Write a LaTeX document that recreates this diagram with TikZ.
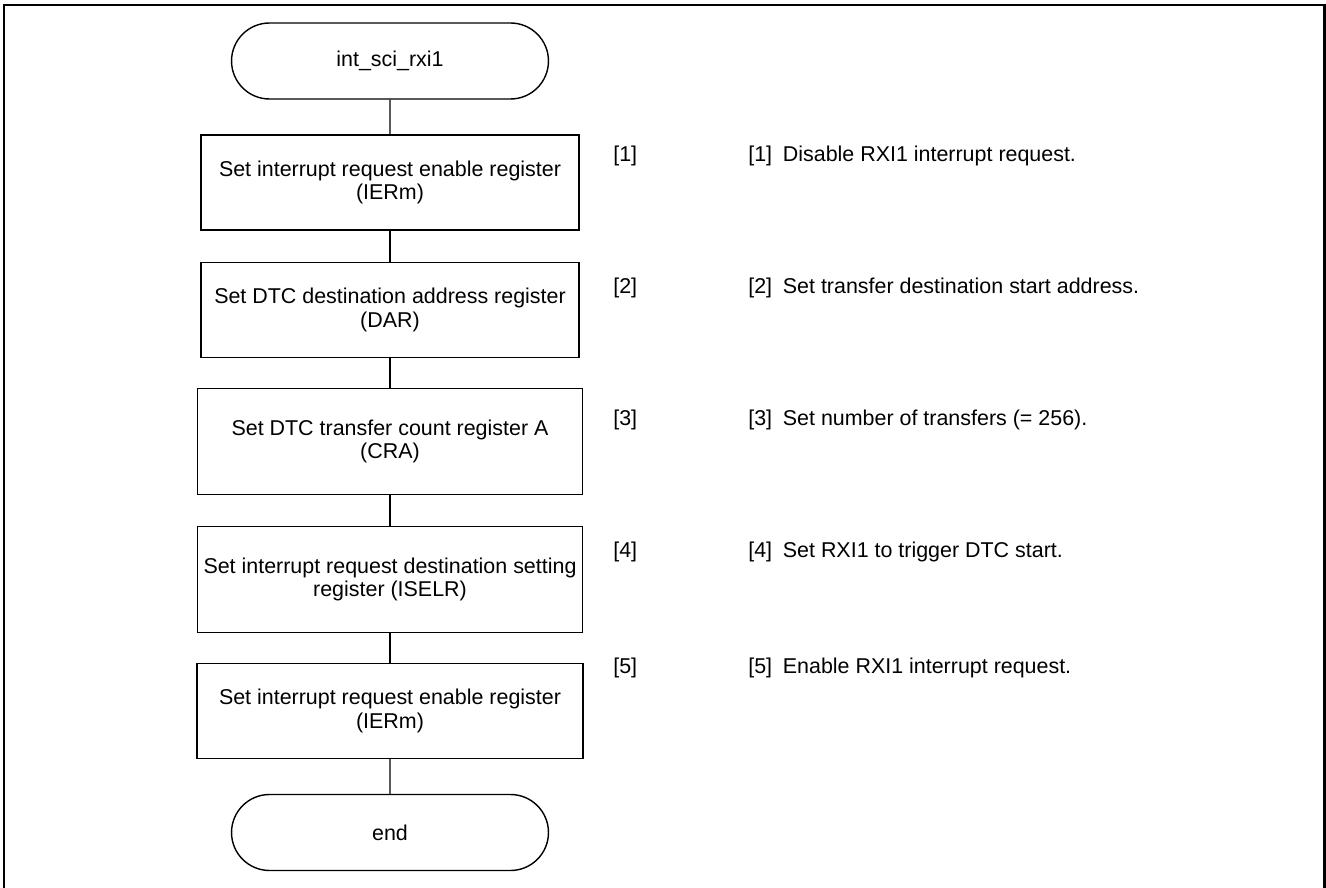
\documentclass[tikz,border=0pt]{standalone}
\usepackage{fontspec}
\setmainfont{Liberation Sans}
\usetikzlibrary{shapes.misc}

\begin{document}
\begin{tikzpicture}[x=0.02cm, y=0.02cm]
\tikzstyle{every node}+=[inner sep=0pt, font=\fontsize{12.2pt}{13.3pt}\selectfont]
\tikzstyle{term}=[draw=black, line width=0.8pt, rounded rectangle, minimum width=6.34cm, minimum height=1.52cm]
\tikzstyle{proc}=[draw=black, line width=0.8pt, rectangle, align=center, minimum width=7.56cm, minimum height=1.9cm]
\tikzstyle{wide}=[proc, minimum width=7.7cm, minimum height=2.12cm]
\useasboundingbox (0,0) rectangle (1326,-888);
\draw [black, line width=1.2pt] (4,-900) -- (4,-5) -- (1324.5,-5) -- (1324.5,-900);
\node [term] (start) at (390,-61) {int\_sci\_rxi1};
\node [proc] (b1) at (390,-182.5) {Set interrupt request enable register\\(IERm)};
\node [proc] (b2) at (390,-310) {Set DTC destination address register\\(DAR)};
\node [wide] (b3) at (390,-441.5) {Set DTC transfer count register A\\(CRA)};
\node [wide] (b4) at (390,-579.5) {Set interrupt request destination setting\\register (ISELR)};
\node [proc, minimum width=7.72cm] (b5) at (390,-711) {Set interrupt request enable register\\(IERm)};
\node [term] (end) at (390,-832.5) {end};
\draw [black, line width=0.8pt] (start) -- (b1);
\draw [black, line width=0.8pt] (b1) -- (b2);
\draw [black, line width=0.8pt] (b2) -- (b3);
\draw [black, line width=0.8pt] (b3) -- (b4);
\draw [black, line width=0.8pt] (b4) -- (b5);
\draw [black, line width=0.8pt] (b5) -- (end);
\node [anchor=west] (n1) at (613,-156) {[1]};
\node [anchor=west] (n2) at (613,-288) {[2]};
\node [anchor=west] (n3) at (613,-420) {[3]};
\node [anchor=west] (n4) at (613,-552) {[4]};
\node [anchor=west] (n5) at (613,-668) {[5]};
\node [anchor=west] (d1) at (748,-156) {[1]\enspace Disable RXI1 interrupt request.};
\node [anchor=west] (d2) at (748,-288) {[2]\enspace Set transfer destination start address.};
\node [anchor=west] (d3) at (748,-420) {[3]\enspace Set number of transfers (= 256).};
\node [anchor=west] (d4) at (748,-552) {[4]\enspace Set RXI1 to trigger DTC start.};
\node [anchor=west] (d5) at (748,-668) {[5]\enspace Enable RXI1 interrupt request.};
\end{tikzpicture}
\end{document}
